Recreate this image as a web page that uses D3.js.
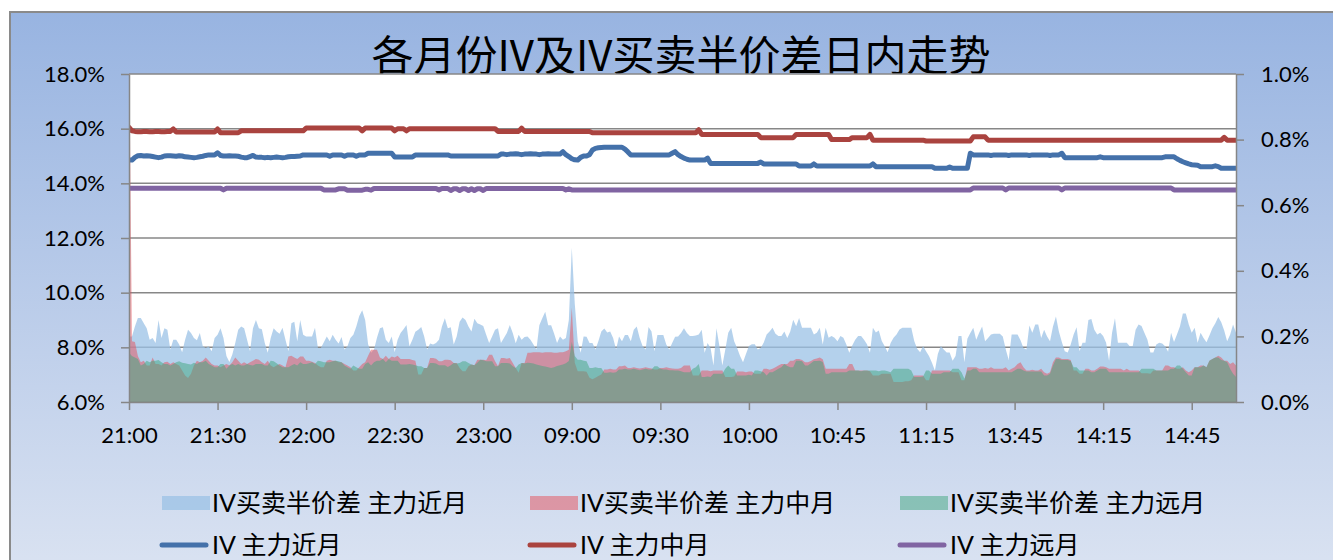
<!DOCTYPE html>
<html lang="zh">
<head>
    <meta charset="UTF-8">
    <title>各月份IV及IV买卖半价差日内走势</title>
    <script src="https://cdn.jsdelivr.net/npm/d3@7"></script>
    <style>
        body { margin: 0; background: #fff; }
        text { font-family: Lato, "Noto Sans CJK SC", sans-serif; fill: #000; }
        .axis path, .axis line { stroke: #868686; stroke-width: 1.5px; }
        .grid line { stroke: #878787; stroke-width: 1.5px; }
    </style>
</head>
<body>
<svg id="chart" width="1333" height="560"></svg>
<script>
    // x axis: one point per minute, a label every 30 points
    var timeLabels = ["21:00", "21:30", "22:00", "22:30", "23:00", "09:00", "09:30",
        "10:00", "10:45", "11:15", "13:45", "14:15", "14:45"];
    var labelEvery = 30;

    // IV of the three main contracts, in 0.01% (1485 = 14.85%), left axis
    var nearIV = [
        1485,1485,1495,1501,1502,1500,1501,1500,1498,1496,
        1494,1496,1500,1501,1501,1500,1499,1501,1500,1497,
        1496,1495,1494,1495,1497,1499,1502,1504,1504,1504,
        1512,1502,1500,1500,1501,1500,1500,1499,1496,1494,
        1494,1498,1502,1496,1495,1495,1494,1495,1494,1495,
        1496,1495,1494,1495,1497,1498,1498,1499,1500,1504,
        1504,1504,1504,1504,1504,1504,1504,1504,1499,1504,
        1504,1504,1504,1499,1504,1504,1504,1499,1504,1504,
        1504,1510,1510,1510,1510,1510,1510,1510,1510,1510,
        1496,1496,1496,1496,1496,1496,1496,1504,1504,1504,
        1504,1504,1504,1504,1504,1504,1504,1504,1504,1500,
        1500,1500,1500,1500,1500,1500,1500,1500,1500,1500,
        1500,1500,1500,1500,1500,1500,1507,1507,1505,1507,
        1507,1508,1507,1505,1507,1507,1508,1507,1507,1505,
        1507,1507,1508,1507,1507,1507,1507,1516,1505,1498,
        1490,1486,1485,1495,1500,1500,1505,1522,1528,1530,
        1531,1532,1532,1532,1532,1532,1532,1532,1525,1515,
        1504,1504,1504,1504,1504,1504,1504,1504,1504,1504,
        1504,1504,1504,1504,1510,1516,1505,1498,1492,1488,
        1485,1485,1485,1485,1485,1485,1492,1473,1473,1473,
        1473,1473,1473,1473,1473,1473,1473,1473,1473,1473,
        1473,1473,1473,1473,1478,1471,1471,1471,1471,1471,
        1471,1471,1471,1471,1471,1471,1471,1463,1463,1463,
        1463,1463,1471,1463,1463,1463,1463,1463,1463,1463,
        1463,1463,1463,1463,1463,1463,1463,1463,1463,1463,
        1463,1463,1471,1461,1461,1461,1461,1461,1461,1461,
        1461,1461,1461,1461,1461,1461,1461,1461,1461,1461,
        1461,1461,1461,1455,1455,1455,1455,1455,1460,1455,
        1455,1455,1455,1455,1455,1510,1504,1504,1504,1504,
        1504,1504,1502,1504,1504,1504,1504,1504,1502,1504,
        1504,1504,1504,1504,1504,1502,1504,1504,1504,1504,
        1504,1504,1502,1504,1504,1504,1510,1494,1494,1494,
        1494,1494,1494,1494,1494,1494,1494,1494,1494,1497,
        1494,1494,1494,1494,1494,1494,1494,1494,1494,1494,
        1494,1494,1494,1494,1494,1494,1494,1494,1494,1494,
        1494,1497,1497,1497,1497,1490,1484,1479,1475,1471,
        1468,1467,1466,1461,1461,1461,1461,1461,1464,1461,
        1455,1455,1455,1455,1455,1455
    ];
    var midIV = [
        1605,1592,1590,1589,1589,1590,1590,1589,1589,1590,
        1590,1589,1589,1590,1590,1599,1588,1588,1588,1588,
        1588,1588,1588,1588,1588,1588,1588,1588,1588,1588,
        1599,1585,1585,1585,1585,1585,1585,1585,1592,1592,
        1592,1592,1592,1592,1592,1592,1592,1592,1592,1592,
        1592,1592,1592,1592,1592,1592,1592,1592,1592,1592,
        1602,1602,1602,1602,1602,1602,1602,1602,1602,1602,
        1602,1602,1602,1602,1602,1602,1602,1602,1602,1592,
        1602,1602,1602,1602,1602,1602,1602,1602,1602,1602,
        1592,1600,1600,1600,1592,1600,1600,1600,1600,1600,
        1600,1600,1600,1600,1600,1600,1600,1600,1600,1600,
        1600,1600,1600,1600,1600,1600,1600,1600,1600,1600,
        1600,1600,1600,1600,1600,1590,1590,1590,1590,1590,
        1590,1590,1590,1602,1590,1590,1590,1590,1590,1590,
        1590,1590,1590,1590,1590,1590,1590,1590,1590,1590,
        1590,1590,1590,1590,1590,1590,1590,1585,1585,1585,
        1585,1585,1585,1585,1585,1585,1585,1585,1585,1585,
        1585,1585,1585,1585,1585,1585,1585,1585,1585,1585,
        1585,1585,1585,1585,1585,1585,1585,1585,1585,1585,
        1585,1585,1585,1596,1579,1579,1579,1579,1579,1579,
        1579,1579,1579,1579,1579,1579,1579,1579,1579,1579,
        1579,1579,1579,1579,1567,1567,1567,1567,1567,1567,
        1567,1567,1567,1567,1567,1567,1579,1579,1579,1579,
        1579,1579,1579,1579,1579,1579,1579,1579,1560,1560,
        1560,1560,1560,1560,1560,1567,1567,1567,1567,1567,
        1567,1579,1558,1558,1558,1558,1558,1558,1558,1558,
        1558,1558,1558,1558,1558,1558,1558,1558,1558,1558,
        1555,1555,1555,1555,1555,1555,1555,1555,1555,1555,
        1555,1555,1555,1555,1555,1555,1570,1570,1570,1570,
        1570,1558,1558,1558,1558,1558,1558,1558,1558,1558,
        1558,1558,1558,1558,1558,1558,1558,1558,1558,1558,
        1558,1558,1558,1558,1558,1558,1558,1558,1558,1558,
        1558,1558,1558,1558,1558,1558,1558,1558,1558,1558,
        1558,1558,1558,1558,1558,1558,1558,1558,1558,1558,
        1558,1558,1558,1558,1558,1558,1558,1558,1558,1558,
        1558,1558,1558,1558,1558,1558,1558,1558,1558,1558,
        1558,1558,1558,1558,1558,1558,1558,1558,1558,1558,
        1558,1568,1558,1558,1558,1558
    ];
    var farIV = [
        1382,1382,1382,1382,1382,1382,1382,1382,1382,1382,
        1382,1382,1382,1382,1382,1382,1382,1382,1382,1382,
        1382,1382,1382,1382,1382,1382,1382,1382,1382,1382,
        1382,1382,1376,1382,1382,1382,1382,1382,1382,1382,
        1382,1382,1382,1382,1382,1382,1382,1382,1382,1382,
        1382,1382,1382,1382,1382,1382,1382,1382,1382,1382,
        1382,1382,1382,1382,1382,1382,1376,1376,1376,1376,
        1376,1380,1380,1380,1375,1375,1375,1375,1375,1375,
        1378,1378,1375,1381,1381,1381,1381,1381,1381,1381,
        1381,1381,1381,1381,1381,1381,1381,1381,1381,1381,
        1381,1381,1381,1381,1381,1376,1381,1381,1381,1374,
        1380,1380,1374,1380,1380,1374,1380,1374,1380,1380,
        1374,1381,1381,1381,1381,1381,1381,1381,1381,1381,
        1381,1381,1381,1381,1381,1381,1381,1381,1381,1381,
        1381,1381,1381,1381,1381,1381,1381,1381,1376,1380,
        1376,1376,1376,1376,1376,1376,1376,1376,1376,1376,
        1376,1376,1376,1376,1376,1376,1376,1376,1376,1376,
        1376,1376,1376,1376,1376,1376,1376,1376,1376,1376,
        1376,1376,1376,1376,1376,1376,1376,1376,1376,1376,
        1376,1376,1376,1376,1376,1376,1376,1376,1376,1376,
        1376,1376,1376,1376,1376,1376,1376,1376,1376,1376,
        1376,1376,1376,1376,1376,1376,1376,1376,1376,1376,
        1376,1376,1376,1376,1376,1376,1376,1376,1376,1376,
        1376,1376,1376,1376,1376,1376,1376,1376,1376,1376,
        1376,1376,1376,1376,1376,1376,1376,1376,1376,1376,
        1376,1376,1376,1376,1376,1376,1376,1376,1376,1376,
        1376,1376,1376,1376,1376,1376,1376,1376,1376,1376,
        1376,1376,1376,1376,1376,1376,1376,1376,1376,1376,
        1376,1376,1376,1376,1376,1376,1383,1383,1383,1383,
        1383,1383,1383,1383,1383,1383,1383,1376,1383,1383,
        1383,1383,1383,1383,1383,1383,1383,1383,1383,1383,
        1383,1383,1383,1383,1383,1383,1376,1383,1383,1383,
        1383,1383,1383,1383,1383,1383,1383,1383,1383,1383,
        1383,1383,1383,1383,1383,1383,1383,1383,1383,1383,
        1383,1383,1383,1383,1383,1383,1383,1383,1383,1383,
        1383,1383,1383,1383,1376,1376,1376,1376,1376,1376,
        1376,1376,1376,1376,1376,1376,1376,1376,1376,1376,
        1376,1376,1376,1376,1376,1376
    ];

    // IV half bid-ask spread, in 0.001% (200 = 0.200%), right axis
    var spreadNear = [
        200,200,230,256,256,240,225,190,195,180,
        250,195,225,220,160,190,190,175,152,190,
        220,210,195,188,210,170,165,170,155,195,
        205,225,195,140,122,145,180,220,230,225,
        190,155,225,250,225,222,180,150,195,225,
        215,208,226,190,155,240,245,185,250,205,
        200,200,200,226,165,165,182,200,185,205,
        190,178,198,160,170,195,205,230,262,280,
        250,176,150,160,196,225,228,190,180,200,
        152,190,210,222,235,170,190,214,220,229,
        200,160,178,175,180,190,230,255,225,228,
        175,200,245,258,250,230,215,254,240,236,
        232,205,180,200,220,225,180,195,210,235,
        210,179,205,190,198,200,190,175,160,234,
        255,275,234,234,209,180,200,190,195,250,
        470,300,185,150,200,199,180,180,160,185,
        215,224,212,215,195,160,200,185,204,204,
        185,220,230,195,170,160,229,215,155,204,
        204,204,175,160,180,199,200,210,225,210,
        201,201,203,206,220,150,180,165,111,225,
        171,111,160,211,226,185,165,140,121,146,
        171,176,176,160,165,181,206,215,226,208,
        201,201,215,195,215,251,231,256,226,226,
        226,226,206,211,226,175,226,196,201,196,
        185,201,196,175,150,172,190,201,201,190,
        176,150,226,212,218,186,170,152,180,196,
        206,221,226,226,226,226,186,162,152,171,
        155,140,120,96,146,171,160,151,151,126,
        140,201,201,121,193,210,226,190,211,230,
        185,195,206,208,208,208,200,161,128,206,
        206,206,188,165,160,233,211,236,236,195,
        220,200,185,230,261,215,183,155,151,175,
        206,228,155,181,181,250,253,220,206,211,
        201,181,126,210,255,181,181,181,181,170,
        170,220,236,232,210,190,151,151,175,181,
        178,170,153,211,183,206,230,270,270,236,
        211,226,181,211,195,182,203,225,240,259,
        243,218,185,205,236,211
    ];
    var spreadMid = [
        1150,185,183,140,121,126,111,111,136,116,
        116,111,121,123,116,121,116,111,96,81,
        73,86,111,126,121,126,136,126,116,111,
        111,106,111,116,111,121,136,126,116,121,
        116,121,126,131,129,121,116,126,111,106,
        111,116,111,106,139,141,136,131,139,139,
        126,126,123,119,111,106,106,126,129,126,
        126,121,121,116,111,106,96,96,106,116,
        121,141,159,159,159,136,131,141,131,139,
        136,141,131,131,131,131,128,126,84,84,
        104,104,134,134,132,124,124,129,129,127,
        119,119,104,94,94,109,114,112,129,129,
        129,127,144,144,124,109,134,134,132,134,
        119,104,89,119,119,150,150,152,152,152,
        150,152,152,152,150,150,152,152,155,159,
        287,120,94,94,94,92,74,69,74,79,
        84,99,99,101,99,99,109,109,111,104,
        104,106,104,102,104,106,104,102,99,99,
        104,104,106,104,102,101,101,104,111,111,
        111,81,81,81,96,96,96,94,96,96,
        96,96,76,76,76,78,93,93,93,91,
        93,93,86,86,86,101,101,98,101,106,
        111,116,116,116,126,126,131,131,128,121,
        121,125,130,133,136,130,101,101,101,101,
        101,101,101,101,116,116,96,96,96,96,
        96,94,81,81,81,86,86,86,86,61,
        61,61,61,63,63,66,81,81,81,81,
        66,66,96,96,96,96,96,96,96,91,
        91,91,66,66,106,106,106,106,101,101,
        104,101,106,101,101,101,101,106,96,101,
        106,116,121,106,96,96,98,96,96,101,
        91,86,91,121,136,136,131,131,131,128,
        96,96,86,86,101,101,96,96,101,108,
        108,106,101,101,101,101,101,96,101,96,
        96,96,96,88,88,88,86,96,96,96,
        96,111,111,106,106,101,101,106,96,91,
        96,106,106,111,111,106,126,131,136,141,
        136,126,126,116,121,111
    ];
    var spreadFar = [
        150,140,136,131,111,116,126,121,126,126,
        128,121,116,116,111,116,121,124,120,118,
        116,114,120,116,121,121,126,116,111,106,
        106,116,116,101,111,116,111,116,111,111,
        116,113,111,116,116,116,111,111,126,124,
        118,111,106,106,106,111,116,111,121,116,
        116,118,121,116,126,124,121,121,121,124,
        126,124,121,111,106,101,111,106,101,101,
        116,121,111,121,126,126,131,121,131,126,
        126,126,114,114,114,116,114,112,109,109,
        104,104,119,119,117,112,112,112,107,112,
        119,117,119,124,124,119,114,112,120,129,
        127,124,124,124,109,109,119,119,119,117,
        109,104,114,119,117,120,119,117,114,112,
        110,108,106,104,106,110,112,114,118,125,
        183,140,129,129,126,124,104,104,106,104,
        104,89,89,91,89,91,99,99,101,99,
        99,101,99,97,99,101,99,99,109,109,
        101,99,99,97,97,96,96,94,91,91,
        91,101,106,116,76,76,78,76,86,86,
        86,86,101,111,101,101,81,81,81,81,
        83,81,96,96,94,91,81,91,91,96,
        101,106,116,110,106,106,126,126,124,111,
        111,118,125,125,126,122,86,86,91,91,
        91,91,91,91,96,96,96,96,94,96,
        96,96,96,96,94,96,96,94,91,101,
        101,101,101,101,101,96,76,76,76,78,
        96,96,86,86,86,86,91,91,91,101,
        101,101,91,71,96,96,101,101,91,91,
        91,91,91,91,91,91,91,91,91,91,
        96,101,101,96,93,93,93,93,93,93,
        81,81,86,111,131,131,128,128,128,125,
        106,106,96,96,96,96,91,91,96,101,
        101,101,91,91,91,91,91,91,91,91,
        91,91,91,101,101,101,101,101,96,96,
        96,96,96,101,101,111,111,101,91,81,
        81,106,106,106,111,106,126,131,136,136,
        128,126,121,101,86,76
    ];

    var leftTicks = [6, 8, 10, 12, 14, 16, 18];
    var rightTicks = [0, 0.2, 0.4, 0.6, 0.8, 1.0];

    var svg = d3.select("#chart");
    var W = 1333, H = 560;
    var plot = {left: 129, right: 1236, top: 74, bottom: 402};

    var defs = svg.append("defs");
    var grad = defs.append("linearGradient")
            .attr("id", "bg")
            .attr("x1", 0).attr("y1", 0).attr("x2", 0).attr("y2", 1);
    grad.append("stop").attr("offset", "0%").attr("stop-color", "#98b4e1");
    grad.append("stop").attr("offset", "100%").attr("stop-color", "#dce4f2");
    defs.append("clipPath").attr("id", "plotClip")
            .append("rect")
            .attr("x", plot.left).attr("y", plot.top)
            .attr("width", plot.right - plot.left).attr("height", plot.bottom - plot.top);

    // chart background with its frame
    svg.append("rect")
            .attr("x", 10).attr("y", 12)
            .attr("width", W + 20).attr("height", H + 20)
            .attr("fill", "url(#bg)")
            .attr("stroke", "#8a8a8a")
            .attr("stroke-width", 2);

    // title goes first, the plot area covers the foot of the glyphs
    svg.append("text")
            .attr("x", 681).attr("y", 71)
            .attr("text-anchor", "middle")
            .style("font-family", "'Noto Sans CJK SC', sans-serif")
            .style("font-size", "42px")
            .text("各月份IV及IV买卖半价差日内走势");

    svg.append("rect")
            .attr("x", plot.left).attr("y", plot.top)
            .attr("width", plot.right - plot.left).attr("height", plot.bottom - plot.top)
            .attr("fill", "#fff");

    var n = nearIV.length;
    var x = d3.scaleLinear().domain([0, n - 1]).range([plot.left, plot.right]);
    var yL = d3.scaleLinear().domain([6, 18]).range([plot.bottom, plot.top]);
    var yR = d3.scaleLinear().domain([0, 1]).range([plot.bottom, plot.top]);

    // gridlines
    svg.append("g").attr("class", "grid")
            .selectAll("line")
            .data(leftTicks)
            .enter().append("line")
            .attr("x1", plot.left).attr("x2", plot.right)
            .attr("y1", function (d) { return yL(d); })
            .attr("y2", function (d) { return yL(d); });

    // spread areas (semi transparent, right axis)
    var area = d3.area()
            .x(function (d, i) { return x(i); })
            .y0(yR(0))
            .y1(function (d) { return yR(d / 1000); });

    var areas = [
        {data: spreadNear, fill: "#9bc2e6", opacity: 0.75},
        {data: spreadMid, fill: "#e6505a", opacity: 0.5},
        {data: spreadFar, fill: "#3fa67e", opacity: 0.5}
    ];
    var ga = svg.append("g").attr("clip-path", "url(#plotClip)");
    areas.forEach(function (a) {
        ga.append("path")
                .attr("d", area(a.data))
                .attr("fill", a.fill)
                .attr("fill-opacity", a.opacity);
    });

    // IV lines (left axis)
    var line = d3.line()
            .x(function (d, i) { return x(i); })
            .y(function (d) { return yL(d / 100); });

    var lines = [
        {data: nearIV, color: "#4471aa"},
        {data: midIV, color: "#aa433f"},
        {data: farIV, color: "#8064a2"}
    ];
    var gl = svg.append("g").attr("clip-path", "url(#plotClip)");
    lines.forEach(function (l) {
        gl.append("path")
                .attr("d", line(l.data))
                .attr("fill", "none")
                .attr("stroke", l.color)
                .attr("stroke-width", 5)
                .attr("stroke-linejoin", "round")
                .attr("stroke-linecap", "round");
    });

    // axes
    var fmtPct = function (d) { return d.toFixed(1) + "%"; };

    var axL = svg.append("g").attr("class", "axis")
            .attr("transform", "translate(" + plot.left + ",0)")
            .call(d3.axisLeft(yL).tickValues(leftTicks).tickFormat(fmtPct)
                    .tickSize(8).tickSizeOuter(0).tickPadding(16));

    var axR = svg.append("g").attr("class", "axis")
            .attr("transform", "translate(" + plot.right + ",0)")
            .call(d3.axisRight(yR).tickValues(rightTicks).tickFormat(fmtPct)
                    .tickSize(8).tickSizeOuter(0).tickPadding(17));

    var tickIdx = timeLabels.map(function (d, i) { return i * labelEvery; });
    var axB = svg.append("g").attr("class", "axis")
            .attr("transform", "translate(0," + plot.bottom + ")")
            .call(d3.axisBottom(x).tickValues(tickIdx)
                    .tickFormat(function (d, i) { return timeLabels[i]; })
                    .tickSize(8).tickSizeOuter(0).tickPadding(17));

    [axL, axR, axB].forEach(function (ax) {
        ax.selectAll("text").style("font-size", "22px").style("fill", "#000");
    });

    // legend
    var legendItems = [
        {label: "IV买卖半价差 主力近月", type: "area", idx: 0},
        {label: "IV买卖半价差 主力中月", type: "area", idx: 1},
        {label: "IV买卖半价差 主力远月", type: "area", idx: 2},
        {label: "IV 主力近月", type: "line", idx: 0},
        {label: "IV 主力中月", type: "line", idx: 1},
        {label: "IV 主力远月", type: "line", idx: 2}
    ];
    var legendCols = [162, 530, 900];
    var legendRows = [503, 545];

    var lg = svg.append("g");
    legendItems.forEach(function (item, k) {
        var cx = legendCols[k % 3], cy = legendRows[Math.floor(k / 3)];
        if (item.type === "area") {
            var a = areas[item.idx];
            lg.append("rect")
                    .attr("x", cx).attr("y", cy - 7)
                    .attr("width", 48).attr("height", 14)
                    .attr("fill", a.fill).attr("fill-opacity", a.opacity);
        } else {
            lg.append("line")
                    .attr("x1", cx).attr("x2", cx + 44)
                    .attr("y1", cy).attr("y2", cy)
                    .attr("stroke", lines[item.idx].color)
                    .attr("stroke-width", 5)
                    .attr("stroke-linecap", "round");
        }
        lg.append("text")
                .attr("x", cx + 50).attr("y", cy)
                .attr("dy", "0.35em")
                .style("font-size", "25px")
                .text(item.label);
    });
</script>
</body>
</html>
